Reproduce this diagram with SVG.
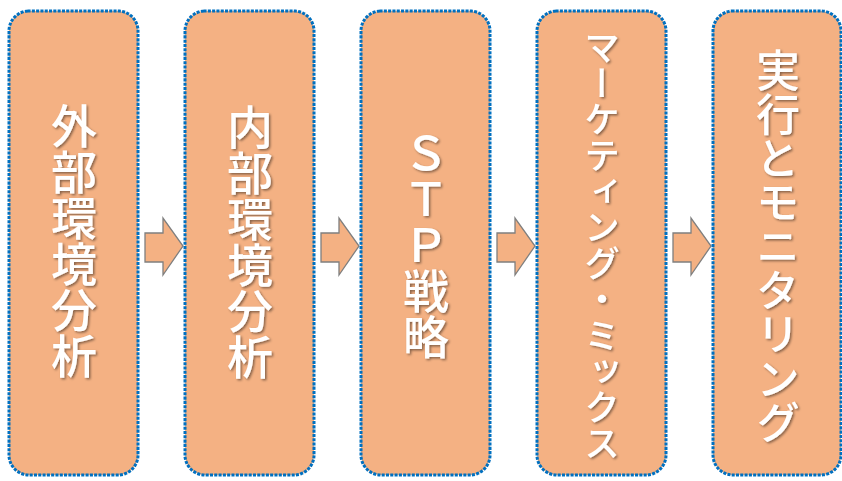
<svg xmlns="http://www.w3.org/2000/svg" width="842" height="481" viewBox="0 0 842 481">
<defs>
<filter id="sh" x="-20%" y="-20%" width="140%" height="140%">
<feDropShadow dx="1.5" dy="1.5" stdDeviation="1" flood-color="#000" flood-opacity="0.45"/>
</filter>
<style>
.box{fill:#F4B183;stroke:#0070C0;stroke-width:3;stroke-dasharray:0.1 4.2;stroke-linecap:square}
.lbl{fill:#fff;font-family:"Noto Sans CJK JP","Noto Sans",sans-serif;font-weight:500;writing-mode:vertical-rl;text-anchor:middle;filter:url(#sh)}
.arr{fill:#F4B183;stroke:#7F7F7F;stroke-width:1.3;stroke-linejoin:miter}
</style>
</defs>
<rect width="842" height="481" fill="#fff"/>
<g id="connectors">
<path class="arr" d="M145,233 H163 V218 L183,246 L163,275 V262 H145 Z"/>
<path class="arr" d="M321,233 H339 V218 L359,246 L339,275 V262 H321 Z"/>
<path class="arr" d="M497,233 H515 V218 L535,246 L515,275 V262 H497 Z"/>
<path class="arr" d="M673,233 H691 V218 L711,246 L691,275 V262 H673 Z"/>
</g>
<g id="n1">
<rect class="box" x="9" y="11" width="129" height="464" rx="20"/>
<text class="lbl" x="74" y="241" font-size="46">外部環境分析</text>
</g>
<g id="n2">
<rect class="box" x="185" y="11" width="129" height="464" rx="20"/>
<text class="lbl" x="250" y="242" font-size="46">内部環境分析</text>
</g>
<g id="n3">
<rect class="box" x="361" y="11" width="129" height="464" rx="20"/>
<text class="lbl" x="426" y="245" font-size="46">ＳＴＰ戦略</text>
</g>
<g id="n4">
<rect class="box" x="537" y="11" width="129" height="464" rx="20"/>
<text class="lbl" x="602" y="245" font-size="36">マーケティング・ミックス</text>
</g>
<g id="n5">
<rect class="box" x="713" y="11" width="128" height="464" rx="20"/>
<text class="lbl" x="778" y="246" font-size="44">実行とモニタリング</text>
</g>
</svg>
